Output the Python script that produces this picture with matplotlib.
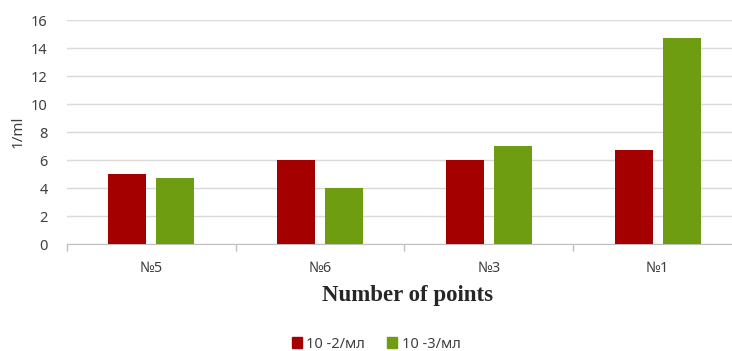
import numpy as np
import matplotlib.pyplot as plt
from matplotlib.patches import Patch

categories = ['№5', '№6', '№3', '№1']
series_names = ['10 -2/мл', '10 -3/мл']
vals_2 = [5.0, 6.0, 6.0, 6.7]
vals_3 = [4.7, 4.0, 7.0, 14.7]
colors = ['#A50000', '#6E9D12']

plt.rcParams['font.family'] = ['Noto Sans', 'DejaVu Sans']

fig = plt.figure(figsize=(7.32, 3.51), dpi=100)
# the chart is cropped on the right, so the axes run past the figure edge
ax = fig.add_axes([67 / 732, 107 / 351, 675 / 732, 224 / 351])

x = np.arange(len(categories))
w = 0.225
off = 0.142
ax.bar(x - off, vals_2, w, color=colors[0], zorder=3)
ax.bar(x + off, vals_3, w, color=colors[1], zorder=3)

ax.set_xlim(-0.5, len(categories) - 0.5)
ax.set_ylim(0, 16)
ax.set_yticks(range(0, 17, 2))
ax.yaxis.grid(True, color='#D9D9D9', linewidth=1)
ax.set_axisbelow(True)

ax.set_xticks(x)
ax.set_xticklabels(categories)
ax.set_xticks(np.arange(-0.5, len(categories)), minor=True)
ax.tick_params(axis='x', which='major', length=0, pad=12, labelsize=10.5, colors='#404040')
ax.tick_params(axis='x', which='minor', length=5, color='#BFBFBF', width=1)
ax.tick_params(axis='y', length=0, pad=14, labelsize=10.5, colors='#404040')

for s in ['left', 'right', 'top']:
    ax.spines[s].set_visible(False)
ax.spines['bottom'].set_color('#BFBFBF')

fig.text(18 / 732, 1 - 132 / 351, '1/ml', rotation=90, ha='center', va='center',
         fontsize=11, color='#404040')
fig.text(408 / 732, 1 - 295 / 351, 'Number of points', ha='center', va='center',
         family='Liberation Serif', fontweight='bold', fontsize=16.5, color='#262626')

handles = [Patch(color=c, label=n) for c, n in zip(colors, series_names)]
fig.legend(handles=handles, loc='center', bbox_to_anchor=(376 / 732, 1 - 344 / 351),
           ncol=2, frameon=False, fontsize=10.5, handlelength=0.7, handleheight=0.7,
           handletextpad=0.3, columnspacing=1.5, labelcolor='#404040')

plt.savefig('out.png', dpi=100)
